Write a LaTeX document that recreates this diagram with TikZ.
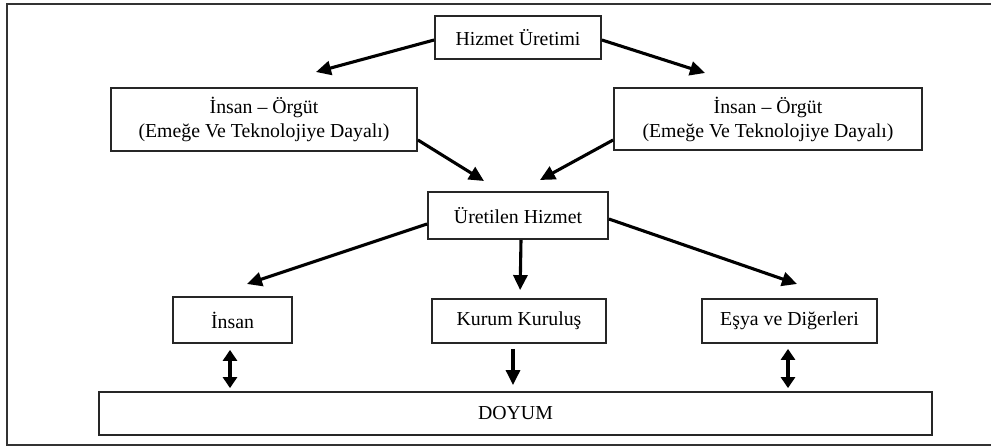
\documentclass[tikz,border=0pt]{standalone}
\usepackage{fontspec}
\setmainfont{Liberation Serif}
\usetikzlibrary{arrows.meta,calc}

\begin{document}
\begin{tikzpicture}[x=1pt,y=-1pt,
  box/.style={draw=black!85,line width=1.8pt,rectangle,inner sep=0pt,align=center,
    font=\fontsize{19.8pt}{24pt}\selectfont},
  flow/.style={line width=3.1pt,-{Triangle[length=15pt,width=14pt]}},
  twoway/.style={line width=3.6pt,{Triangle[length=11pt,width=14pt]}-{Triangle[length=11pt,width=14pt]}},
  frame/.style={draw=black!80,line width=2pt}]
\useasboundingbox (0,0) rectangle (991,446);

% outer frame (open on the right)
\draw[frame] (991,4) -- (6.5,4) -- (6.5,444.5) -- (991,444.5);

% boxes
\node[box,minimum width=166pt,minimum height=43pt] (hiz) at (518,37.5) {Hizmet Üretimi};
\node[box,minimum width=306pt,minimum height=63pt] (lio) at (264,119.5) {İnsan – Örgüt\\(Emeğe Ve Teknolojiye Dayalı)};
\node[box,minimum width=308pt,minimum height=62pt] (rio) at (768,119) {İnsan – Örgüt\\(Emeğe Ve Teknolojiye Dayalı)};
\node[box,minimum width=180pt,minimum height=47pt] (uret) at (518,215.5) {Üretilen Hizmet};
\node[box,minimum width=119pt,minimum height=46pt] (insan) at (232.5,320) {İnsan};
\node[box,minimum width=174pt,minimum height=44pt] (kurum) at (519,321) {Kurum Kuruluş};
\node[box,minimum width=175pt,minimum height=44pt] (esya) at (789.5,321) {Eşya ve Diğerleri};
\node[box,minimum width=833pt,minimum height=43pt] (doyum) at (515.5,413.5) {DOYUM};

% free arrow tips
\coordinate (tipHL) at (316,72);
\coordinate (tipHR) at (705,73);
\coordinate (tipLU) at (484,181);
\coordinate (tipRU) at (540,180);
\coordinate (tipUI) at (247,284);
\coordinate (tipUE) at (797,284);

% connectors
\draw[flow] ([yshift=-2.5pt]hiz.west) -- (tipHL);
\draw[flow] ([yshift=-2.5pt]hiz.east) -- (tipHR);
\draw[flow] ([yshift=-20.5pt]lio.east) -- (tipLU);
\draw[flow] ([yshift=-21pt]rio.west) -- (tipRU);
\draw[flow] ([yshift=-8.5pt]uret.west) -- (tipUI);
\draw[flow] ([yshift=-3.5pt]uret.east) -- (tipUE);
\draw[flow,shorten >=8pt] ([xshift=3pt]uret.south) -- ([xshift=1pt]kurum.north);

\draw[twoway,shorten <=6pt,shorten >=3pt] ([xshift=-2.5pt]insan.south) -- ([xshift=-2.5pt]insan.south |- doyum.north);
\draw[flow,shorten <=5pt,shorten >=6pt] ([xshift=-6pt]kurum.south) -- ([xshift=-6pt]kurum.south |- doyum.north);
\draw[twoway,shorten <=5pt,shorten >=3pt] ([xshift=-1.5pt]esya.south) -- ([xshift=-1.5pt]esya.south |- doyum.north);
\end{tikzpicture}
\end{document}
